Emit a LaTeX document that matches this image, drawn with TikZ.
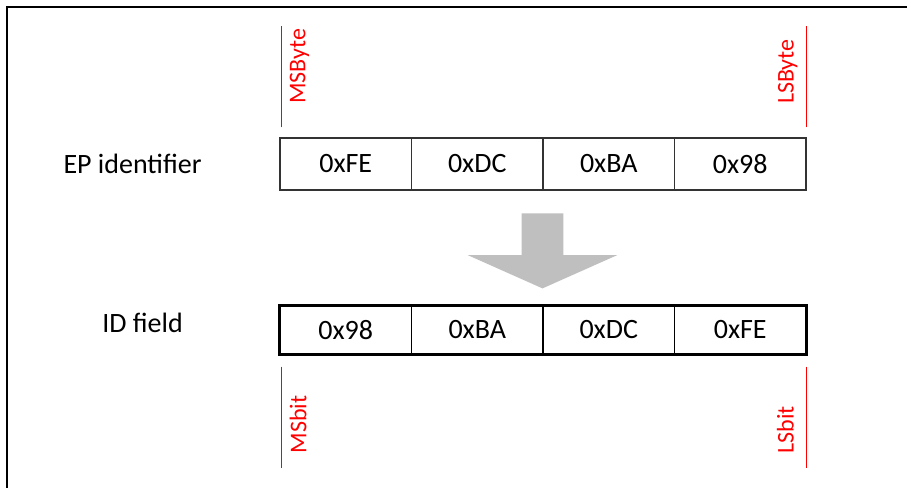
\documentclass[tikz,border=0pt]{standalone}
\usepackage{fontspec}
\setmainfont{Carlito}
\usepackage{tikz}
\usetikzlibrary{shapes,arrows}
\usetikzlibrary{calc,positioning}
\tikzstyle{bytecell} = [rectangle, draw=black!80, line width=0.6pt, 
    minimum width=65.75pt, minimum height=26pt, inner sep=0pt, font=\fontsize{14}{17}\selectfont]
\tikzstyle{fieldcell} = [bytecell, draw=black, minimum height=23.5pt]
\tikzstyle{rowlabel} = [inner sep=0pt, font=\fontsize{14}{17}\selectfont]
\tikzstyle{marker} = [red, line width=0.6pt]
\tikzstyle{bitlabel} = [red, rotate=90, inner sep=0pt, font=\fontsize{12}{14}\selectfont]
\tikzstyle{swaparrow} = [single arrow, draw=none, fill=gray!50, rotate=-90, 
    inner xsep=0pt, inner ysep=10.25pt, minimum height=37.5pt,
    single arrow head extend=27pt, single arrow tip angle=132]

\begin{document}
\begin{tikzpicture}[x=0.5pt, y=0.5pt, node distance=65.75pt]
    \useasboundingbox (0,0) rectangle (907,488);
    \draw [line width=1pt, black] (7,0) -- (7,481) -- (907,481);
    % EP identifier, MSByte first
    \node [bytecell] (ep1) at (345.75,324) {0xFE};
    \node [bytecell, right of=ep1] (ep2) {0xDC};
    \node [bytecell, right of=ep2] (ep3) {0xBA};
    \node [bytecell, right of=ep3] (ep4) {0x98};
    \node [rowlabel, left of=ep1, node distance=106.6pt] (eplabel) {EP identifier};
    % ID field, bytes swapped
    \node [fieldcell] (id1) at (345.75,158) {0x98};
    \node [fieldcell, right of=id1] (id2) {0xBA};
    \node [fieldcell, right of=id2] (id3) {0xDC};
    \node [fieldcell, right of=id3] (id4) {0xFE};
    \draw [line width=1.5pt, black] (id1.north west) rectangle (id4.south east);
    \node [rowlabel, left of=id1, node distance=101.6pt, yshift=3.5pt] (idlabel) {ID field};
    % big arrow between the rows
    \node [swaparrow, anchor=tail] (swap) at (542.5,275) {};
    % byte and bit order markers
    \draw [marker] ([shift={(2,10)}]ep1.north west) coordinate (msbyte) -- ++(0,101);
    \draw [marker] ([shift={(0,10)}]ep4.north east) coordinate (lsbyte) -- ++(0,101);
    \draw [marker] ([shift={(2,-12.5)}]id1.south west) coordinate (msbit) -- ++(0,-101);
    \draw [marker] ([shift={(0,-12.5)}]id4.south east) coordinate (lsbit) -- ++(0,-101);
    \node [bitlabel, anchor=north west] (msbytetext) at ([shift={(8,23)}]msbyte) {MSByte};
    \node [bitlabel, anchor=base west] (lsbytetext) at ([shift={(-13,23)}]lsbyte) {LSByte};
    \node [bitlabel, anchor=north west] (msbittext) at ([shift={(8,-87)}]msbit) {MSbit};
    \node [bitlabel, anchor=base west] (lsbittext) at ([shift={(-13,-87)}]lsbit) {LSbit};
\end{tikzpicture}
\end{document}
